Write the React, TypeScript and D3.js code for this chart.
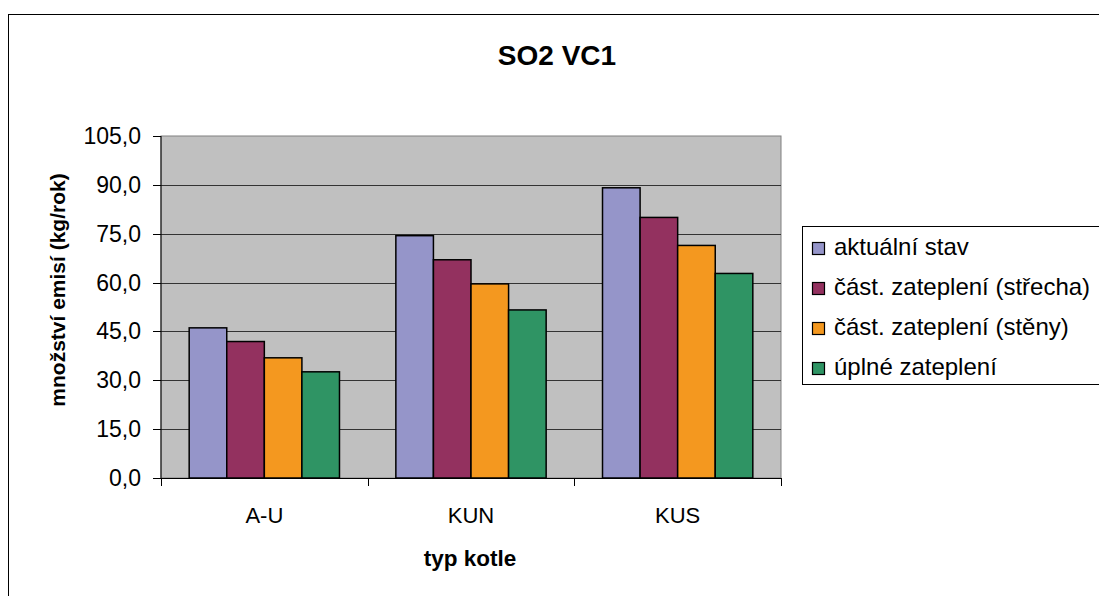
import React from "react";
import * as d3 from "d3";

const categories = ["A-U", "KUN", "KUS"];
const seriesNames = [
  "aktuální stav",
  "část. zateplení (střecha)",
  "část. zateplení (stěny)",
  "úplné zateplení",
];
const aktualniStav = [46.1, 74.4, 89.1];
const strecha = [41.9, 67.0, 80.0];
const steny = [36.9, 59.6, 71.4];
const uplne = [32.6, 51.6, 62.8];
const seriesColors = ["#9595C9", "#93315F", "#F4981F", "#2F9464"];
const yTicks = [0, 15, 30, 45, 60, 75, 90, 105];

const W = 1099;
const H = 596;
const plot = { left: 161, right: 781, top: 136, bottom: 478 };
const FONT = "'Liberation Sans', Arial, sans-serif";

export default function App() {
  const series = [aktualniStav, strecha, steny, uplne];
  const x0 = d3
    .scaleBand<string>()
    .domain(categories)
    .range([plot.left, plot.right])
    .paddingInner(0)
    .paddingOuter(0);
  const groupWidth = x0.bandwidth() / (1 + 1.5 / 4);
  const x1 = d3
    .scaleBand<number>()
    .domain(d3.range(series.length))
    .range([0, groupWidth])
    .padding(0);
  const y = d3.scaleLinear().domain([0, 105]).range([plot.bottom, plot.top]);
  const fmt = (v: number) => v.toFixed(1).replace(".", ",");

  return (
    <svg
      width={W}
      height={H}
      style={{ position: "absolute", left: 0, top: 0, background: "#fff" }}
      fontFamily={FONT}
    >
      <rect x={8.5} y={14.5} width={W} height={H} fill="#fff" stroke="#000" strokeWidth={1} />
      <text x={557} y={65} textAnchor="middle" fontSize={28} fontWeight="bold">
        SO2 VC1
      </text>
      <rect
        x={plot.left}
        y={plot.top}
        width={plot.right - plot.left}
        height={plot.bottom - plot.top}
        fill="#C0C0C0"
        stroke="#808080"
        strokeWidth={1}
      />
      {yTicks.slice(1, -1).map((t) => (
        <line
          key={t}
          x1={plot.left}
          x2={plot.right}
          y1={Math.round(y(t)) + 0.5}
          y2={Math.round(y(t)) + 0.5}
          stroke="#333"
          strokeWidth={1}
        />
      ))}
      {series.map((vals, si) =>
        vals.map((v, ci) => {
          const bx = (x0(categories[ci]) as number) + (x0.bandwidth() - groupWidth) / 2 + (x1(si) as number);
          return (
            <rect
              key={si + "-" + ci}
              x={bx}
              y={y(v)}
              width={x1.bandwidth()}
              height={plot.bottom - y(v)}
              fill={seriesColors[si]}
              stroke="#000"
              strokeWidth={1.5}
            />
          );
        })
      )}
      {/* y axis */}
      <line x1={plot.left} x2={plot.left} y1={plot.top} y2={plot.bottom} stroke="#000" strokeWidth={1} />
      {yTicks.map((t) => (
        <g key={t}>
          <line x1={plot.left - 8} x2={plot.left} y1={Math.round(y(t)) + 0.5} y2={Math.round(y(t)) + 0.5} stroke="#000" />
          <text x={plot.left - 20} y={y(t)} dy="0.35em" textAnchor="end" fontSize={23}>
            {fmt(t)}
          </text>
        </g>
      ))}
      {/* x axis */}
      <line x1={plot.left} x2={plot.right} y1={plot.bottom + 0.5} y2={plot.bottom + 0.5} stroke="#000" />
      {categories.concat(["_end"]).map((c, i) => {
        const xx = plot.left + i * x0.bandwidth();
        return <line key={c} x1={Math.round(xx) + 0.5} x2={Math.round(xx) + 0.5} y1={plot.bottom} y2={plot.bottom + 8} stroke="#000" />;
      })}
      {categories.map((c) => (
        <text
          key={c}
          x={(x0(c) as number) + x0.bandwidth() / 2}
          y={523}
          textAnchor="middle"
          fontSize={22}
        >
          {c}
        </text>
      ))}
      <text x={470} y={566} textAnchor="middle" fontSize={22.5} fontWeight="bold">
        typ kotle
      </text>
      <text
        transform={`translate(65, 290) rotate(-90)`}
        textAnchor="middle"
        fontSize={21}
        fontWeight="bold"
      >
        množství emisí (kg/rok)
      </text>
      {/* legend */}
      <rect x={802.5} y={226.5} width={320} height={158} fill="#fff" stroke="#000" />
      {seriesNames.map((n, i) => (
        <g key={n} transform={`translate(0, ${247 + i * 40})`}>
          <rect x={812.5} y={-4.5} width={12} height={12} fill={seriesColors[i]} stroke="#000" strokeWidth={1.2} />
          <text x={834} y={0} dy="0.35em" fontSize={24}>
            {n}
          </text>
        </g>
      ))}
    </svg>
  );
}
